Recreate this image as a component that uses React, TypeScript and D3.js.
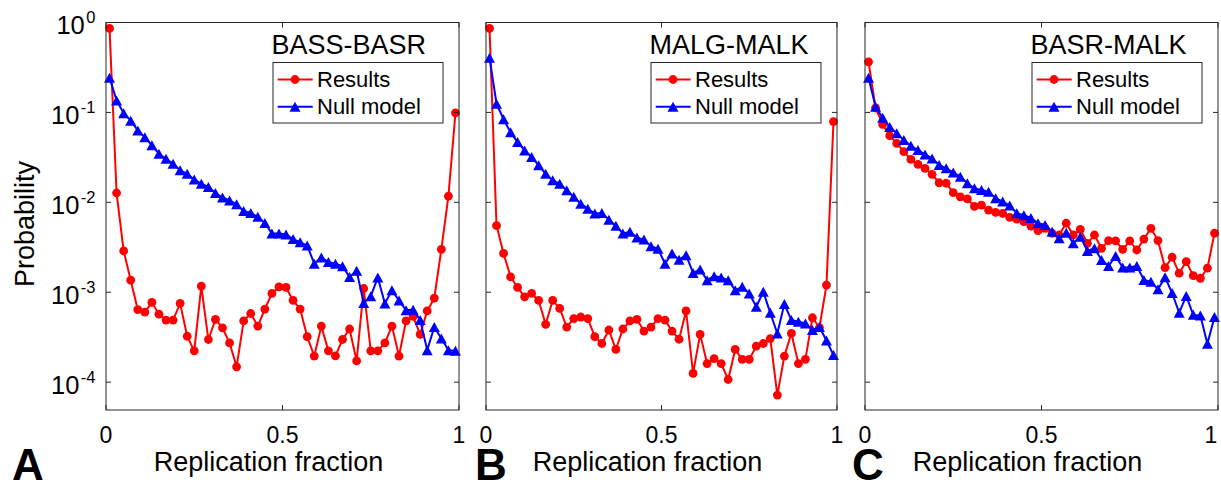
import React from "react";
import * as d3 from "d3";

// ---- data ----
const binCenters = [
  0.01, 0.03, 0.05, 0.07, 0.09, 0.11, 0.13, 0.15, 0.17, 0.19,
  0.21, 0.23, 0.25, 0.27, 0.29, 0.31, 0.33, 0.35, 0.37, 0.39,
  0.41, 0.43, 0.45, 0.47, 0.49, 0.51, 0.53, 0.55, 0.57, 0.59,
  0.61, 0.63, 0.65, 0.67, 0.69, 0.71, 0.73, 0.75, 0.77, 0.79,
  0.81, 0.83, 0.85, 0.87, 0.89, 0.91, 0.93, 0.95, 0.97, 0.99,
];

const bassBasrResults = [
  0.86, 0.0127, 0.00288, 0.00136, 0.00064, 0.0006, 0.00077, 0.00057, 0.00049, 0.00049,
  0.00075, 0.000324, 0.000223, 0.00117, 0.000298, 0.000498, 0.000402, 0.000273, 0.000148, 0.00048,
  0.00058, 0.00042, 0.00065, 0.00097, 0.00115, 0.00113, 0.00081, 0.00065, 0.00032, 0.000195,
  0.00042, 0.000223, 0.000196, 0.000298, 0.00039, 0.000172, 0.0011, 0.000223, 0.000223, 0.000273,
  0.00042, 0.000195, 0.00048, 0.00054, 0.00034, 0.00062, 0.00086, 0.003, 0.0117, 0.099,
];
const bassBasrNull = [
  0.243, 0.136, 0.098, 0.081, 0.063, 0.053, 0.043, 0.0347, 0.0305, 0.0269,
  0.0227, 0.0208, 0.0179, 0.0161, 0.0148, 0.0127, 0.0113, 0.0105, 0.0095, 0.008,
  0.0076, 0.0069, 0.0059, 0.0045, 0.0045, 0.0044, 0.0039, 0.0036, 0.0033, 0.00208,
  0.00243, 0.00217, 0.00208, 0.00195, 0.00148, 0.00173, 0.00076, 0.0009, 0.00146, 0.00075,
  0.00105, 0.00081, 0.00063, 0.00064, 0.00049, 0.000227, 0.00041, 0.000305, 0.000227, 0.000223,
];

const malgMalkResults = [
  0.86, 0.0055, 0.0027, 0.00148, 0.00113, 0.00089, 0.00097, 0.00081, 0.00044, 0.00081,
  0.00066, 0.00041, 0.00051, 0.00053, 0.00051, 0.00032, 0.000269, 0.00038, 0.000231, 0.00039,
  0.00048, 0.0005, 0.00037, 0.00041, 0.00051, 0.00049, 0.00037, 0.0003, 0.00062, 0.000125,
  0.00034, 0.000161, 0.000183, 0.000161, 0.000107, 0.000231, 0.000179, 0.000179, 0.000251, 0.000269,
  0.000305, 0.0000718, 0.000195, 0.000348, 0.000161, 0.000179, 0.00052, 0.000405, 0.0012, 0.079,
];
const malgMalkNull = [
  0.405, 0.125, 0.084, 0.06, 0.0468, 0.0378, 0.0319, 0.0258, 0.0208, 0.0176,
  0.0161, 0.0136, 0.0115, 0.00966, 0.0085, 0.0075, 0.0076, 0.0064, 0.0055, 0.0045,
  0.0047, 0.00405, 0.00385, 0.00325, 0.00305, 0.00208, 0.0027, 0.0023, 0.00258, 0.00164,
  0.00179, 0.00136, 0.00151, 0.00146, 0.00136, 0.00105, 0.00115, 0.00097, 0.00069, 0.00101,
  0.00059, 0.000348, 0.00074, 0.00049, 0.00047, 0.00045, 0.00038, 0.00041, 0.00029, 0.0002,
];

const basrMalkResults = [
  0.365, 0.112, 0.0736, 0.055, 0.0453, 0.0366, 0.03, 0.0264, 0.0239, 0.0205,
  0.0165, 0.0163, 0.0128, 0.0115, 0.0109, 0.009, 0.0093, 0.0082, 0.00774, 0.00755,
  0.0068, 0.0065, 0.0061, 0.00545, 0.00484, 0.00514, 0.00453, 0.00433, 0.00585, 0.00433,
  0.005, 0.0035, 0.00433, 0.00308, 0.00375, 0.00373, 0.003, 0.00373, 0.00295, 0.0039,
  0.00514, 0.00375, 0.00188, 0.00245, 0.00163, 0.00219, 0.00153, 0.00143, 0.00185, 0.00453,
];
const basrMalkNull = [
  0.243, 0.1155, 0.087, 0.069, 0.0585, 0.0492, 0.0426, 0.0381, 0.0341, 0.0308,
  0.026, 0.0239, 0.0215, 0.0193, 0.0163, 0.0143, 0.0137, 0.0131, 0.0111, 0.0102,
  0.0092, 0.00755, 0.0072, 0.0067, 0.00585, 0.0056, 0.00472, 0.00398, 0.0046, 0.0035,
  0.00415, 0.00288, 0.00308, 0.00229, 0.00196, 0.00253, 0.00188, 0.00188, 0.00196, 0.00137,
  0.00131, 0.00108, 0.00147, 0.00098, 0.00059, 0.00091, 0.00056, 0.00055, 0.000267, 0.00053,
];

const panelTitles = ["BASS-BASR", "MALG-MALK", "BASR-MALK"];
const panelLetters = ["A", "B", "C"];
const seriesNames = ["Results", "Null model"];
const xTickValues = [0, 0.5, 1];
const xTickLabels = ["0", "0.5", "1"];
const yTickExponents = [0, -1, -2, -3, -4];
const xAxisLabel = "Replication fraction";
const yAxisLabel = "Probability";

// ---- layout ----
const W = 1221;
const H = 482;
const plotTop = 22.5;
const plotBottom = 410;
const panelX = [
  [106, 459],
  [486, 837],
  [865, 1218],
];
const letterX = [12, 475, 852];
const FONT = "'Liberation Sans', Arial, Helvetica, sans-serif";
const AXIS_COLOR = "#262626";
const RED = "#ff0000";
const BLUE = "#0000ff";

const panelData = [
  [bassBasrResults, bassBasrNull],
  [malgMalkResults, malgMalkNull],
  [basrMalkResults, basrMalkNull],
];

const triPath = (cx: number, cy: number, w = 11, h = 10) =>
  `M${cx},${cy - h / 2}L${cx + w / 2},${cy + h / 2}L${cx - w / 2},${cy + h / 2}Z`;

function Panel({ idx }: { idx: number }) {
  const [x0, x1] = panelX[idx];
  const x = d3.scaleLinear().domain([0, 1]).range([x0, x1]);
  const y = d3.scaleLog().domain([4.9e-5, 1]).range([plotBottom, plotTop]);
  const [res, nul] = panelData[idx];
  const line = d3
    .line<number>()
    .x((_, i) => x(binCenters[i]))
    .y((d) => y(d));
  const tickLen = 5;
  const legW = 170;
  const legH = 60.5;
  const legX = x1 - 16 - legW;
  const legY = 62.5;
  const row1 = legY + 17;
  const row2 = legY + 44.2;

  return (
    <g>
      {/* data */}
      <path d={line(res) || ""} fill="none" stroke={RED} strokeWidth={2} />
      {res.map((d, i) => (
        <circle key={"r" + i} cx={x(binCenters[i])} cy={y(d)} r={4.4} fill={RED} />
      ))}
      <path d={line(nul) || ""} fill="none" stroke={BLUE} strokeWidth={2} />
      {nul.map((d, i) => (
        <path key={"n" + i} d={triPath(x(binCenters[i]), y(d))} fill={BLUE} />
      ))}

      {/* box */}
      <rect
        x={x0}
        y={plotTop}
        width={x1 - x0}
        height={plotBottom - plotTop}
        fill="none"
        stroke={AXIS_COLOR}
        strokeWidth={1}
      />
      {/* x ticks */}
      {xTickValues.map((t, i) => (
        <g key={"xt" + i}>
          <line x1={x(t)} x2={x(t)} y1={plotBottom} y2={plotBottom - tickLen} stroke={AXIS_COLOR} />
          <line x1={x(t)} x2={x(t)} y1={plotTop} y2={plotTop + tickLen} stroke={AXIS_COLOR} />
          <text
            x={Math.min(x(t), W - 10)}
            y={442.7}
            textAnchor="middle"
            fontFamily={FONT}
            fontSize={23}
            fill="#000"
          >
            {xTickLabels[i]}
          </text>
        </g>
      ))}
      {/* y ticks */}
      {yTickExponents.map((e) => {
        const yy = y(Math.pow(10, e));
        return (
          <g key={"yt" + e}>
            <line x1={x0} x2={x0 + tickLen} y1={yy} y2={yy} stroke={AXIS_COLOR} />
            <line x1={x1} x2={x1 - tickLen} y1={yy} y2={yy} stroke={AXIS_COLOR} />
            {idx === 0 && (
              <text x={95.5} y={yy + 11.5} textAnchor="end" fontFamily={FONT} fontSize={25.5} fill="#000">
                10
                <tspan dy={-11} dx={1.5} fontSize={16.5}>
                  {e === 0 ? "0" : "-" + Math.abs(e)}
                </tspan>
              </text>
            )}
          </g>
        );
      })}

      {/* title */}
      <text x={legX - 1.5} y={54} fontFamily={FONT} fontSize={27} fill="#000">
        {panelTitles[idx]}
      </text>
      {/* legend */}
      <rect x={legX} y={legY} width={legW} height={legH} fill="#fff" stroke={AXIS_COLOR} strokeWidth={1} />
      <line x1={legX + 4.7} x2={legX + 39.7} y1={row1} y2={row1} stroke={RED} strokeWidth={2} />
      <circle cx={legX + 22} cy={row1} r={4.4} fill={RED} />
      <text x={legX + 44} y={row1 + 7} fontFamily={FONT} fontSize={22} fill="#000">
        {seriesNames[0]}
      </text>
      <line x1={legX + 4.7} x2={legX + 39.7} y1={row2} y2={row2} stroke={BLUE} strokeWidth={2} />
      <path d={triPath(legX + 22, row2)} fill={BLUE} />
      <text x={legX + 44} y={row2 + 7} fontFamily={FONT} fontSize={22} fill="#000">
        {seriesNames[1]}
      </text>

      {/* x label */}
      <text
        x={(x0 + x1) / 2 - 14}
        y={470.7}
        textAnchor="middle"
        fontFamily={FONT}
        fontSize={27}
        fill="#000"
      >
        {xAxisLabel}
      </text>
      {/* panel letter */}
      <text x={letterX[idx]} y={480} fontFamily={FONT} fontSize={44} fontWeight="bold" fill="#000">
        {panelLetters[idx]}
      </text>
    </g>
  );
}

export default function App() {
  return (
    <svg
      width={W}
      height={H}
      viewBox={`0 0 ${W} ${H}`}
      style={{ position: "absolute", left: 0, top: 0, background: "#fff" }}
    >
      <rect x={0} y={0} width={W} height={H} fill="#fff" />
      <text
        transform={`translate(34,224) rotate(-90)`}
        textAnchor="middle"
        fontFamily={FONT}
        fontSize={27}
        fill="#000"
      >
        {yAxisLabel}
      </text>
      {[0, 1, 2].map((i) => (
        <Panel key={i} idx={i} />
      ))}
    </svg>
  );
}
